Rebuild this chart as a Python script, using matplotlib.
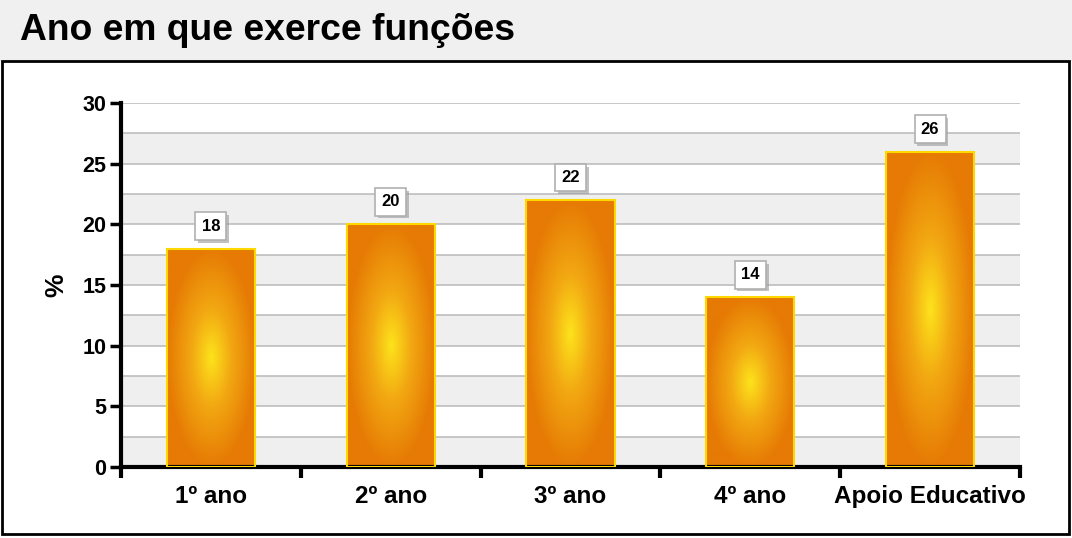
import numpy as np
import matplotlib.pyplot as plt
from matplotlib.colors import LinearSegmentedColormap
from matplotlib.patches import Rectangle
import matplotlib.patheffects as pe

plt.rcParams['font.family'] = ['Liberation Sans', 'DejaVu Sans']

# data
categories = ['1º ano', '2º ano', '3º ano', '4º ano', 'Apoio Educativo']
values = [18, 20, 22, 14, 26]
title = 'Ano em que exerce funções'

fig = plt.figure(figsize=(10.72, 5.38), dpi=100)

# title band and panel border
fig.patches.append(Rectangle((0, 0.8866), 1, 0.1134, transform=fig.transFigure,
                             facecolor='#f0f0f0', edgecolor='none', zorder=-2))
fig.patches.append(Rectangle((2 / 1072, 4 / 538), 1067 / 1072, 473 / 538,
                             transform=fig.transFigure, facecolor='white',
                             edgecolor='black', linewidth=2, zorder=-1))
fig.text(20 / 1072, 1 - 31 / 538, title, fontsize=26.8, fontweight='bold',
         va='center', ha='left')

ax = fig.add_axes([121 / 1072, 71 / 538, 899 / 1072, 364 / 538])
ax.set_facecolor('none')
ax.set_zorder(2)

x = np.arange(len(categories))

# alternating bands and grid lines
for lo in np.arange(0, 30, 5):
    ax.axhspan(lo, lo + 2.5, facecolor='#efefef', edgecolor='none', zorder=0)
for g in np.arange(2.5, 30.1, 2.5):
    ax.axhline(g, color='#bdbdbd', linewidth=1.2, zorder=0.5)

# radial gradient for bars
cmap = LinearSegmentedColormap.from_list('glow', [(0, '#fde31c'), (0.45, '#f2a812'), (1, '#e67a04')])
gx, gy = np.meshgrid(np.linspace(-1, 1, 80), np.linspace(-1, 1, 200))
rad = np.clip(np.sqrt(gx ** 2 + gy ** 2), 0, 1)

width = 0.49
for xi, v in zip(x, values):
    ax.imshow(rad, cmap=cmap, vmin=0, vmax=1, aspect='auto', interpolation='bilinear',
              extent=(xi - width / 2, xi + width / 2, 0, v), zorder=2)
    ax.bar(xi, v, width=width, facecolor='none', edgecolor='#ffd800', linewidth=1.5, zorder=3)
    ax.text(xi, v + 1.85, str(v), ha='center', va='center', fontsize=12, fontweight='bold', zorder=5,
            bbox=dict(boxstyle='square,pad=0.38', facecolor='white', edgecolor='#b0b0b0', linewidth=1.2,
                      path_effects=[pe.SimplePatchShadow(offset=(2, -2), shadow_rgbFace='#999999', alpha=0.6),
                                    pe.Normal()]))

ax.set_xlim(-0.5, len(categories) - 0.5)
ax.set_ylim(0, 30)

ax.set_yticks(np.arange(0, 31, 5))
ax.set_xticks(x)
ax.set_xticklabels(categories)
ax.set_xticks(np.arange(-0.5, len(categories), 1), minor=True)
ax.tick_params(axis='x', which='major', length=0, pad=13, labelsize=17.5)
ax.tick_params(axis='x', which='minor', length=8, width=3, direction='out')
ax.tick_params(axis='y', length=8, width=2.5, labelsize=15.5, pad=2.5)
for lab in ax.get_xticklabels() + ax.get_yticklabels():
    lab.set_fontweight('bold')

ax.set_ylabel('%', fontsize=19, fontweight='bold', labelpad=10)

for s in ['top', 'right']:
    ax.spines[s].set_visible(False)
ax.spines['left'].set_linewidth(3)
ax.spines['bottom'].set_linewidth(3)

fig.savefig('out.png', dpi=100)
